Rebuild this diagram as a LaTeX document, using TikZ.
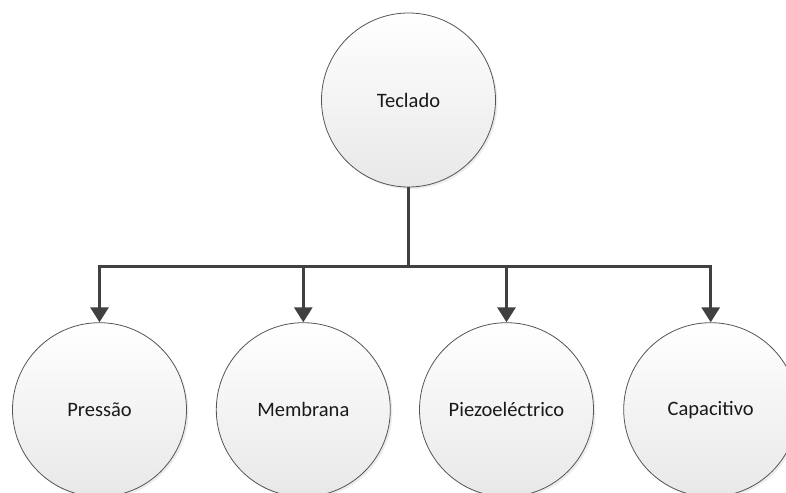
\documentclass[tikz,border=0pt]{standalone}
\usepackage{fontspec}
\setmainfont{Carlito}
\usetikzlibrary{arrows.meta,shadows}
\definecolor{linec}{HTML}{404040}
\definecolor{circc}{HTML}{555555}
\tikzset{
  bubble/.style={circle, minimum size=174pt, inner sep=0pt, draw=circc, line width=0.8pt,
    top color=white, bottom color=black!9, font=\fontsize{20.5}{24}\selectfont, text=black!90,
    drop shadow={shadow xshift=2pt, shadow yshift=-2pt, opacity=0.25, fill=black!30}},
  conn/.style={draw=linec, line width=3pt, -{Triangle[width=18pt,length=15pt]}},
  trunk/.style={draw=linec, line width=3pt}
}
\begin{document}
\begin{tikzpicture}[x=1pt,y=-1pt]
\useasboundingbox (0,0) rectangle (786,492);
\clip (0,0) rectangle (786,492);
\node[bubble] (top) at (408.5,100) {Teclado};
\node[bubble] (a) at (99.5,409.7) {Pressão};
\node[bubble] (b) at (303.3,409.7) {Membrana};
\node[bubble] (c) at (506.5,409.7) {Piezoeléctrico};
\node[bubble] (d) at (710.7,409.7) {Capacitivo};
\coordinate (j) at (408.5,266.7);
\draw[trunk] (top.south) -- (j);
\draw[conn] (j) -| (a.north);
\draw[conn] (j) -| (b.north);
\draw[conn] (j) -| (c.north);
\draw[conn] (j) -| (d.north);
\end{tikzpicture}
\end{document}
